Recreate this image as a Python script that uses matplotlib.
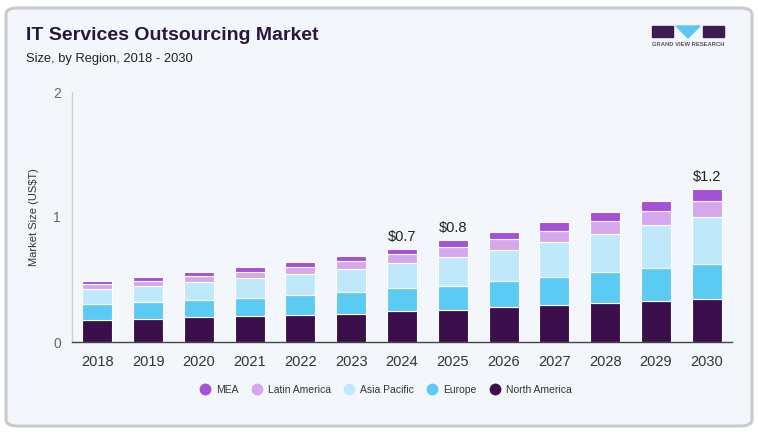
import matplotlib
matplotlib.use("Agg")
import matplotlib.pyplot as plt
from matplotlib.patches import FancyBboxPatch, Rectangle, Polygon
from matplotlib.lines import Line2D
import numpy as np

plt.rcParams['font.family'] = ['Liberation Sans', 'DejaVu Sans']

years = ['2018', '2019', '2020', '2021', '2022', '2023', '2024',
         '2025', '2026', '2027', '2028', '2029', '2030']
north_america = [0.180, 0.186, 0.198, 0.206, 0.214, 0.227, 0.248,
                 0.258, 0.277, 0.296, 0.312, 0.328, 0.344]
europe = [0.125, 0.131, 0.138, 0.146, 0.163, 0.173, 0.181,
          0.194, 0.211, 0.224, 0.245, 0.261, 0.277]
asia_pacific = [0.118, 0.133, 0.144, 0.158, 0.166, 0.182, 0.206,
                0.230, 0.251, 0.280, 0.307, 0.344, 0.382]
latin_america = [0.038, 0.040, 0.048, 0.050, 0.061, 0.064, 0.072,
                 0.078, 0.088, 0.090, 0.104, 0.115, 0.128]
mea = [0.026, 0.032, 0.030, 0.038, 0.035, 0.040, 0.040,
       0.053, 0.056, 0.070, 0.072, 0.080, 0.090]
labels = {'2024': '$0.7', '2025': '$0.8', '2030': '$1.2'}

series = [('North America', north_america, '#3a0f4b'),
          ('Europe', europe, '#5bcbf3'),
          ('Asia Pacific', asia_pacific, '#bfe9fa'),
          ('Latin America', latin_america, '#d7a7eb'),
          ('MEA', mea, '#a64fd7')]

fig = plt.figure(figsize=(7.58, 4.32), dpi=100)
fig.patch.set_facecolor('white')

# card background
card = FancyBboxPatch((6 / 758, 6 / 432), 746 / 758, 418 / 432,
                      boxstyle="round,pad=0,rounding_size=0.015",
                      transform=fig.transFigure, facecolor='#f3f7fb',
                      edgecolor='#c9cacc', linewidth=2.2, zorder=-5)
fig.patches.append(card)

ax = fig.add_axes([72 / 758, 90 / 432, 660 / 758, 250 / 432])
ax.set_facecolor('none')
ax.set_zorder(2)

x = np.arange(len(years))
bottom = np.zeros(len(years))
for name, vals, color in series:
    ax.bar(x, vals, width=0.59, bottom=bottom, color=color,
           edgecolor='white', linewidth=0.8, label=name, zorder=2)
    bottom += np.array(vals)

for i, yr in enumerate(years):
    if yr in labels:
        ax.text(x[i], bottom[i] + 0.04, labels[yr], ha='center', va='bottom',
                fontsize=10.5, color='#222222')

ax.set_xlim(-0.5, 12.5)
ax.set_ylim(0, 2)
ax.set_yticks([0, 1, 2])
ax.set_xticks(x)
ax.set_xticklabels(years)
ax.tick_params(axis='x', length=0, pad=9, labelsize=10.5, colors='#333333')
ax.tick_params(axis='y', length=0, pad=8, labelsize=10, colors='#666666')
for s in ['top', 'right']:
    ax.spines[s].set_visible(False)
ax.spines['left'].set_color('#d0d0d0')
ax.spines['left'].set_linewidth(1)
ax.spines['bottom'].set_color('#444444')
ax.spines['bottom'].set_linewidth(1)
ax.set_ylabel('Market Size (US$T)', fontsize=8, color='#333333')
ax.yaxis.set_label_coords(-0.050, 0.5)

# legend
handles = [Line2D([], [], marker='o', linestyle='', markersize=7.5,
                  markerfacecolor=c, markeredgecolor=c, label=n)
           for n, _, c in reversed(series)]
fig.legend(handles=handles, loc='center', bbox_to_anchor=(383 / 758, 1 - 390 / 432),
           ncol=5, frameon=False, fontsize=7.5, handletextpad=0.05,
           columnspacing=0.75, labelcolor='#333333')

# titles
fig.text(26 / 758, 1 - 35 / 432, 'IT Services Outsourcing Market', fontsize=14,
         fontweight='bold', color='#2a1740', va='center', ha='left')
fig.text(26 / 758, 1 - 59 / 432, 'Size, by Region, 2018 - 2030', fontsize=9.3,
         color='#222222', va='center', ha='left')

# logo
fig.patches.append(Rectangle((652 / 758, 1 - 37 / 432), 21 / 758, 11 / 432,
                             transform=fig.transFigure, color='#3a1a4f'))
fig.patches.append(Polygon([(676 / 758, 1 - 26 / 432), (700 / 758, 1 - 26 / 432),
                            (688 / 758, 1 - 38 / 432)], closed=True,
                           transform=fig.transFigure, color='#5bc6ef'))
fig.patches.append(Rectangle((703 / 758, 1 - 37 / 432), 21 / 758, 11 / 432,
                             transform=fig.transFigure, color='#3a1a4f'))
fig.text(688 / 758, 1 - 45 / 432, 'GRAND VIEW RESEARCH', fontsize=4.2,
         fontweight='bold', color='#555566', ha='center', va='center')

fig.savefig('out.png', dpi=100, facecolor='white')
